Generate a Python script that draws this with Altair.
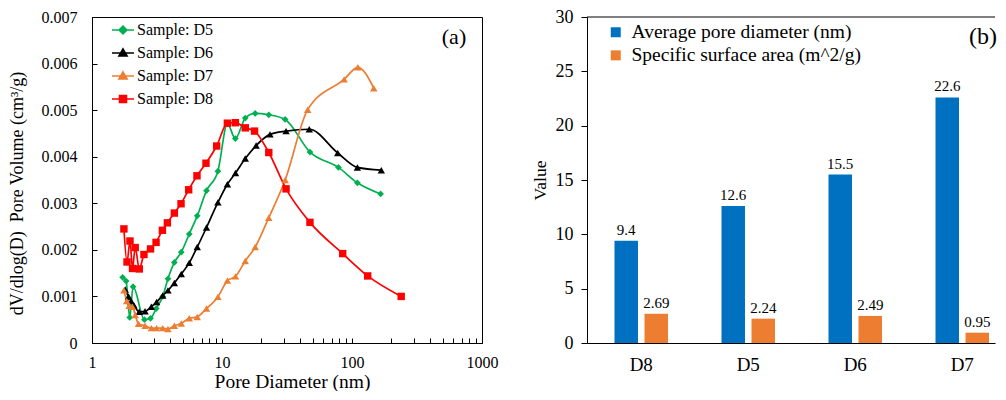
import altair as alt
import pandas as pd

FONT = "Liberation Serif"

# ---------------- panel (a): pore size distribution ----------------
series_names = ["D5", "D6", "D7", "D8"]
series_colors = ["#00B050", "#000000", "#ED7D31", "#FF0000"]
series_shapes = ["diamond", "triangle-up", "triangle-up", "square"]
series_sizes = [45, 55, 55, 55]

d5_diam = [1.72, 1.83, 1.95, 2.07, 2.53, 2.82, 3.12, 3.50, 3.84, 4.30, 4.86, 5.60, 6.45,
           7.60, 9.30, 11.0, 12.67, 15.1, 18.0, 22.9, 30.6, 47.5, 78.6, 110, 166]
d5_vol = [0.00141, 0.00133, 0.00055, 0.00121, 0.00050, 0.00053, 0.00074, 0.00100, 0.00138,
          0.00173, 0.00195, 0.00234, 0.00273, 0.00327, 0.00369, 0.00471, 0.00439, 0.00483,
          0.00493, 0.00490, 0.00480, 0.00410, 0.00377, 0.00344, 0.00320]

d6_diam = [1.80, 1.91, 2.00, 2.10, 2.31, 2.56, 2.86, 3.14, 3.50, 3.84, 4.30, 4.86, 5.60,
           6.45, 7.60, 9.30, 11.0, 12.7, 15.1, 18.3, 23.4, 31.1, 46.9, 77.7, 110, 168]
d6_vol = [0.00115, 0.00100, 0.00090, 0.00081, 0.00067, 0.00068, 0.00078, 0.00088, 0.00102,
          0.00113, 0.00129, 0.00148, 0.00172, 0.00206, 0.00248, 0.00302, 0.00341, 0.00365,
          0.00396, 0.00424, 0.00448, 0.00455, 0.00459, 0.00408, 0.00377, 0.00371]

d7_diam = [1.76, 1.85, 1.93, 2.05, 2.15, 2.28, 2.56, 2.86, 3.14, 3.50, 3.84, 4.30, 4.86,
           5.60, 6.45, 7.60, 9.30, 11.0, 12.7, 15.1, 18.0, 22.9, 30.6, 45.6, 87, 111, 147]
d7_vol = [0.00113, 0.00090, 0.00080, 0.00078, 0.00060, 0.00041, 0.00037, 0.00032, 0.00032,
          0.00032, 0.00030, 0.00037, 0.00042, 0.00053, 0.00056, 0.00074, 0.00099, 0.00134,
          0.00143, 0.00176, 0.00206, 0.00269, 0.00350, 0.00501, 0.00566, 0.00592, 0.00547]

d8_diam = [1.76, 1.86, 1.96, 2.05, 2.15, 2.31, 2.51, 2.82, 3.11, 3.48, 3.80, 4.30, 4.84,
           5.54, 6.42, 7.53, 9.10, 11.0, 12.67, 15.1, 17.8, 22.9, 31.1, 47.5, 84.8, 132, 239]
d8_vol = [0.00245, 0.00174, 0.00219, 0.00160, 0.00205, 0.00159, 0.00190, 0.00202, 0.00216,
          0.00242, 0.00258, 0.00279, 0.00299, 0.00329, 0.00359, 0.00386, 0.00423, 0.00472,
          0.00473, 0.00462, 0.00455, 0.00409, 0.00331, 0.00259, 0.00192, 0.00144, 0.00100]

x_major = [1, 10, 100, 1000]
x_minor = [1, 2, 3, 4, 5, 6, 7, 8, 9, 10, 20, 30, 40, 50, 60, 70, 80, 90,
           100, 200, 300, 400, 500, 600, 700, 800, 900, 1000]
y_ticks_a = [0, 0.001, 0.002, 0.003, 0.004, 0.005, 0.006, 0.007]

# legend symbols: a line segment with the marker (nested outlines look filled)
legend_paths = [
    "M-1,0L1,0M0,-0.36L0.36,0L0,0.36L-0.36,0ZM0,-0.22L0.22,0L0,0.22L-0.22,0Z"
    "M0,-0.09L0.09,0L0,0.09L-0.09,0Z",
    "M-1,0L1,0M0,-0.38L0.38,0.28L-0.38,0.28ZM0,-0.2L0.23,0.19L-0.23,0.19Z"
    "M0,-0.05L0.1,0.12L-0.1,0.12Z",
    "M-1,0L1,0M0,-0.38L0.38,0.28L-0.38,0.28ZM0,-0.2L0.23,0.19L-0.23,0.19Z"
    "M0,-0.05L0.1,0.12L-0.1,0.12Z",
    "M-1,0L1,0M-0.32,-0.32H0.32V0.32H-0.32ZM-0.2,-0.2H0.2V0.2H-0.2Z"
    "M-0.08,-0.08H0.08V0.08H-0.08Z",
]

rows = []
for name, xs, ys in zip(series_names, [d5_diam, d6_diam, d7_diam, d8_diam],
                        [d5_vol, d6_vol, d7_vol, d8_vol]):
    for i, (xv, yv) in enumerate(zip(xs, ys)):
        rows.append({"series": name, "diam": xv, "vol": yv, "order": i})
df_a = pd.DataFrame(rows)

xscale_a = alt.Scale(type="log", domain=[1, 1000], nice=False)
yscale_a = alt.Scale(domain=[0, 0.007], nice=False, zero=True)
cscale_a = alt.Scale(domain=series_names, range=series_colors)

x_main = alt.X("diam:Q", scale=xscale_a, axis=alt.Axis(
    values=x_major, format="d", ticks=False, grid=False, domainColor="black",
    labelFont=FONT, labelFontSize=16, labelColor="black", labelPadding=11,
    labelFlush=False, labelOverlap=False,
    title="Pore Diameter (nm)", titleFont=FONT, titleFontSize=19.5,
    titleFontWeight="normal", titleColor="black", titlePadding=2, titleX=200))
y_main = alt.Y("vol:Q", scale=yscale_a, axis=alt.Axis(
    values=y_ticks_a, format="~g", ticks=False, grid=False, domainColor="black",
    labelFont=FONT, labelFontSize=16, labelColor="black", labelPadding=15,
    labelOverlap=False,
    title="dV/dlog(D)\u00a0 Pore Volume (cm\u00b3/g)", titleFont=FONT, titleFontSize=18,
    titleFontWeight="normal", titleColor="black", titlePadding=14.5, titleY=176))

x_tick = alt.X("diam:Q", scale=xscale_a, axis=alt.Axis(
    orient="bottom", values=x_minor, ticks=True, tickSize=5, tickColor="black",
    offset=-5, labels=False, domain=False, grid=False, title=None))
y_tick = alt.Y("vol:Q", scale=yscale_a, axis=alt.Axis(
    orient="left", values=y_ticks_a, ticks=True, tickSize=5, tickColor="black",
    offset=-5, labels=False, domain=False, grid=False, title=None))

x_plain = alt.X("diam:Q", scale=xscale_a, axis=None)
y_plain = alt.Y("vol:Q", scale=yscale_a, axis=None)

legend_a = dict(orient="none", legendX=19, legendY=1, title=None, padding=0,
                symbolSize=484, symbolStrokeWidth=1.5, symbolOpacity=1,
                labelFont=FONT, labelFontSize=16, labelColor="black", labelOffset=2,
                rowPadding=3.0, labelExpr="'Sample: ' + datum.label")
# invisible layer that only carries the legend (placed first so its legend wins)
legend_layer = alt.Chart(df_a).mark_point(filled=False, opacity=0, strokeWidth=1.5).encode(
    x=x_plain, y=y_plain,
    color=alt.Color("series:N", scale=cscale_a, legend=alt.Legend(**legend_a)),
    shape=alt.Shape("series:N", scale=alt.Scale(domain=series_names, range=legend_paths),
                    legend=alt.Legend(**legend_a)))

lines = alt.Chart(df_a).mark_line(strokeWidth=1.7, interpolate="monotone").encode(
    x=x_main, y=y_main,
    color=alt.Color("series:N", scale=cscale_a, legend=None),
    order="order:Q")

point_layers = []
for k, (name, shp, sz) in enumerate(zip(series_names, series_shapes, series_sizes)):
    point_layers.append(
        alt.Chart(df_a).transform_filter(alt.datum.series == name)
        .mark_point(filled=True, opacity=1, shape=shp, size=sz)
        .encode(x=x_tick if k == 0 else x_plain,
                y=y_tick if k == 0 else y_plain,
                color=alt.Color("series:N", scale=cscale_a, legend=None)))

tag_a = alt.Chart(pd.DataFrame({"t": ["(a)"]})).mark_text(
    fontSize=22, color="black", align="center", baseline="middle").encode(
    text="t:N", x=alt.value(362), y=alt.value(20))

left = alt.layer(legend_layer, lines, *point_layers, tag_a).resolve_axis(
    x="independent", y="independent").properties(
    width=390, height=326, view=alt.ViewBackground(stroke="black", strokeWidth=1))

# ---------------- panel (b): bar chart ----------------
samples = ["D8", "D5", "D6", "D7"]
avg_pore_diameter = [9.4, 12.6, 15.5, 22.6]
specific_surface = [2.69, 2.24, 2.49, 0.95]
measure_names = ["Average pore diameter (nm)", "Specific surface area (m^2/g)"]
measure_colors = ["#0070C0", "#ED7D31"]
y_ticks_b = [0, 5, 10, 15, 20, 25, 30]

rows_b = []
for s, a, b in zip(samples, avg_pore_diameter, specific_surface):
    rows_b.append({"sample": s, "measure": measure_names[0], "value": a})
    rows_b.append({"sample": s, "measure": measure_names[1], "value": b})
df_b = pd.DataFrame(rows_b)

yscale_b = alt.Scale(domain=[0, 30], nice=False, zero=True)
xb = alt.X("sample:N", sort=samples,
           scale=alt.Scale(paddingInner=0.5, paddingOuter=0.1565, align=0.821),
           axis=alt.Axis(title=None, labelAngle=0, ticks=False, domainColor="black",
                         labelFont=FONT, labelFontSize=19, labelColor="black",
                         labelPadding=12))
xo = alt.XOffset("measure:N", sort=measure_names, scale=alt.Scale(paddingInner=0.217))
yb = alt.Y("value:Q", scale=yscale_b, axis=alt.Axis(
    values=y_ticks_b, grid=False, tickSize=6, tickColor="black", domainColor="black",
    labelFont=FONT, labelFontSize=18, labelColor="black", labelPadding=8,
    title="Value", titleFont=FONT, titleFontSize=17.5, titleFontWeight="normal",
    titleColor="black", titlePadding=6))
cb = alt.Color("measure:N", scale=alt.Scale(domain=measure_names, range=measure_colors),
               legend=alt.Legend(orient="none", legendX=19, legendY=5.5, title=None,
                                 padding=0, symbolType="square", symbolSize=100,
                                 symbolStrokeWidth=0, symbolOpacity=1,
                                 labelFont=FONT, labelFontSize=19.5, labelColor="black",
                                 labelOffset=6, rowPadding=2.1, labelLimit=400))

bars = alt.Chart(df_b).mark_bar().encode(x=xb, xOffset=xo, y=yb, color=cb)
bar_text = alt.Chart(df_b).mark_text(fontSize=15, color="black", baseline="alphabetic",
                                     dy=-6).encode(
    x=alt.X("sample:N", sort=samples), xOffset=alt.XOffset("measure:N", sort=measure_names),
    y=alt.Y("value:Q"), text=alt.Text("value:Q", format="~g"))
top_line = alt.Chart(pd.DataFrame({"top": [30]})).mark_rule(
    color="black", strokeWidth=1).encode(y=alt.Y("top:Q"))
tag_b = alt.Chart(pd.DataFrame({"t": ["(b)"]})).mark_text(
    fontSize=24, color="black", align="center", baseline="middle").encode(
    text="t:N", x=alt.value(396), y=alt.value(20))

right = alt.layer(bars, bar_text, top_line, tag_b).properties(
    width=408, height=326, view=alt.ViewBackground(stroke="transparent"))

chart = alt.hconcat(left, right, spacing=105, bounds="flush").resolve_scale(
    color="independent", shape="independent").resolve_legend(
    color="independent", shape="independent").properties(
    padding={"left": 0, "top": -1, "right": 0, "bottom": 0}
).configure(font=FONT).configure_axis(titleFontWeight="normal")

chart.save("out.html", embed_options={"renderer": "svg", "actions": False})
